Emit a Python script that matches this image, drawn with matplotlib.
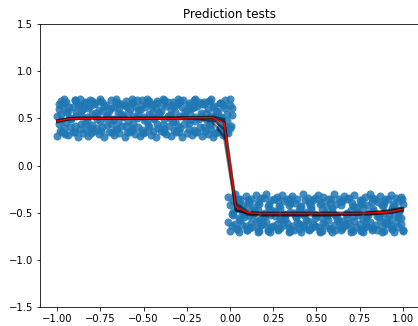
import numpy as np
import matplotlib
matplotlib.use("Agg")
import matplotlib.pyplot as plt

# training points, left band (y around 0.5)
left_x = [
    -1.00, -0.99, -1.00, -0.99, -0.98,
    -0.97, -0.96, -0.98, -0.97, -0.96,
    -0.94, -0.95, -0.93, -0.94, -0.95,
    -0.91, -0.90, -0.92, -0.91, -0.90,
    -0.88, -0.87, -0.89, -0.88, -0.87,
    -0.85, -0.84, -0.86, -0.85, -0.84,
    -0.82, -0.81, -0.83, -0.82, -0.81,
    -0.79, -0.80, -0.78, -0.79, -0.80,
    -0.76, -0.75, -0.77, -0.76, -0.75,
    -0.73, -0.74, -0.72, -0.73, -0.74,
    -0.70, -0.69, -0.71, -0.70, -0.69,
    -0.67, -0.66, -0.68, -0.67, -0.66,
    -0.64, -0.65, -0.63, -0.64, -0.65,
    -0.61, -0.60, -0.62, -0.61, -0.60,
    -0.58, -0.57, -0.59, -0.58, -0.57,
    -0.55, -0.56, -0.54, -0.55, -0.56,
    -0.52, -0.51, -0.53, -0.52, -0.51,
    -0.49, -0.48, -0.50, -0.49, -0.48,
    -0.46, -0.47, -0.45, -0.46, -0.47,
    -0.43, -0.42, -0.44, -0.43, -0.42,
    -0.40, -0.39, -0.41, -0.40, -0.39,
    -0.37, -0.38, -0.36, -0.37, -0.38,
    -0.34, -0.33, -0.35, -0.34, -0.33,
    -0.31, -0.30, -0.32, -0.31, -0.30,
    -0.28, -0.29, -0.27, -0.28, -0.29,
    -0.25, -0.24, -0.26, -0.25, -0.24,
    -0.22, -0.21, -0.23, -0.22, -0.21,
    -0.19, -0.20, -0.18, -0.19, -0.20,
    -0.16, -0.15, -0.17, -0.16, -0.15,
    -0.13, -0.12, -0.14, -0.13, -0.12,
    -0.10, -0.11, -0.09, -0.10, -0.11,
    -0.07, -0.06, -0.08, -0.07, -0.06,
    -0.04, -0.03, -0.05, -0.04, -0.03,
    -0.01, 0.00, -0.02, 0.01, 0.00,
    # second pass, between the columns above
    -0.985, -0.980, -0.990, -0.955, -0.950, -0.960, -0.925, -0.920, -0.930,
    -0.895, -0.890, -0.900, -0.865, -0.860, -0.870, -0.835, -0.830, -0.840,
    -0.805, -0.800, -0.810, -0.775, -0.770, -0.780, -0.745, -0.740, -0.750,
    -0.715, -0.710, -0.720, -0.685, -0.680, -0.690, -0.655, -0.650, -0.660,
    -0.625, -0.620, -0.630, -0.595, -0.590, -0.600, -0.565, -0.560, -0.570,
    -0.535, -0.530, -0.540, -0.505, -0.500, -0.510, -0.475, -0.470, -0.480,
    -0.445, -0.440, -0.450, -0.415, -0.410, -0.420, -0.385, -0.380, -0.390,
    -0.355, -0.350, -0.360, -0.325, -0.320, -0.330, -0.295, -0.290, -0.300,
    -0.265, -0.260, -0.270, -0.235, -0.230, -0.240, -0.205, -0.200, -0.210,
    -0.175, -0.170, -0.180, -0.145, -0.140, -0.150, -0.115, -0.110, -0.120,
    -0.085, -0.080, -0.090, -0.055, -0.050, -0.060, -0.025, -0.020, -0.030,
    0.005, 0.010, 0.000,
]
left_y = [
    0.31, 0.44, 0.52, 0.60, 0.68,
    0.36, 0.40, 0.55, 0.63, 0.70,
    0.32, 0.46, 0.50, 0.58, 0.67,
    0.35, 0.42, 0.49, 0.62, 0.69,
    0.30, 0.39, 0.57, 0.64, 0.70,
    0.34, 0.45, 0.53, 0.60, 0.66,
    0.31, 0.40, 0.51, 0.61, 0.69,
    0.37, 0.43, 0.56, 0.65, 0.68,
    0.33, 0.47, 0.52, 0.59, 0.70,
    0.30, 0.41, 0.50, 0.63, 0.67,
    0.36, 0.44, 0.54, 0.58, 0.69,
    0.32, 0.39, 0.49, 0.62, 0.70,
    0.34, 0.46, 0.55, 0.61, 0.66,
    0.30, 0.42, 0.52, 0.64, 0.68,
    0.35, 0.40, 0.57, 0.60, 0.70,
    0.33, 0.45, 0.50, 0.63, 0.67,
    0.31, 0.38, 0.53, 0.59, 0.69,
    0.36, 0.47, 0.51, 0.62, 0.70,
    0.32, 0.41, 0.56, 0.65, 0.68,
    0.30, 0.44, 0.49, 0.61, 0.66,
    0.37, 0.43, 0.54, 0.58, 0.70,
    0.33, 0.39, 0.52, 0.63, 0.69,
    0.31, 0.46, 0.50, 0.60, 0.67,
    0.35, 0.42, 0.57, 0.64, 0.70,
    0.30, 0.40, 0.53, 0.62, 0.68,
    0.34, 0.45, 0.51, 0.59, 0.66,
    0.32, 0.38, 0.55, 0.61, 0.69,
    0.36, 0.47, 0.49, 0.63, 0.70,
    0.31, 0.41, 0.52, 0.65, 0.67,
    0.33, 0.44, 0.56, 0.60, 0.68,
    0.30, 0.39, 0.50, 0.62, 0.70,
    0.35, 0.46, 0.54, 0.58, 0.66,
    0.32, 0.42, 0.51, 0.64, 0.69,
    0.34, 0.40, 0.55, 0.61, 0.70,
    # second pass
    0.37, 0.48, 0.65, 0.33, 0.57, 0.66, 0.41, 0.50, 0.62,
    0.36, 0.53, 0.69, 0.44, 0.58, 0.64, 0.38, 0.47, 0.67,
    0.34, 0.55, 0.63, 0.40, 0.49, 0.66, 0.37, 0.58, 0.68,
    0.43, 0.52, 0.64, 0.35, 0.48, 0.61, 0.39, 0.56, 0.67,
    0.42, 0.51, 0.65, 0.36, 0.47, 0.63, 0.38, 0.53, 0.66,
    0.41, 0.59, 0.69, 0.34, 0.48, 0.64, 0.43, 0.55, 0.66,
    0.37, 0.50, 0.62, 0.40, 0.57, 0.68, 0.35, 0.49, 0.65,
    0.42, 0.54, 0.67, 0.38, 0.47, 0.63, 0.36, 0.52, 0.66,
    0.44, 0.58, 0.69, 0.39, 0.48, 0.64, 0.35, 0.51, 0.62,
    0.41, 0.56, 0.67, 0.37, 0.49, 0.65, 0.43, 0.53, 0.68,
    0.34, 0.58, 0.63, 0.40, 0.50, 0.66, 0.36, 0.47, 0.61,
    0.42, 0.54, 0.64,
]

# training points, right band (y around -0.5)
right_x = [
    -0.01, 0.00, 0.01, -0.01, 0.00,
    0.03, 0.04, 0.02, 0.03, 0.04,
    0.06, 0.05, 0.07, 0.06, 0.05,
    0.09, 0.10, 0.08, 0.09, 0.10,
    0.12, 0.11, 0.13, 0.12, 0.11,
    0.15, 0.16, 0.14, 0.15, 0.16,
    0.18, 0.17, 0.19, 0.18, 0.17,
    0.21, 0.22, 0.20, 0.21, 0.22,
    0.24, 0.23, 0.25, 0.24, 0.23,
    0.27, 0.28, 0.26, 0.27, 0.28,
    0.30, 0.29, 0.31, 0.30, 0.29,
    0.33, 0.34, 0.32, 0.33, 0.34,
    0.36, 0.35, 0.37, 0.36, 0.35,
    0.39, 0.40, 0.38, 0.39, 0.40,
    0.42, 0.41, 0.43, 0.42, 0.41,
    0.45, 0.46, 0.44, 0.45, 0.46,
    0.48, 0.47, 0.49, 0.48, 0.47,
    0.51, 0.52, 0.50, 0.51, 0.52,
    0.54, 0.53, 0.55, 0.54, 0.53,
    0.57, 0.58, 0.56, 0.57, 0.58,
    0.60, 0.59, 0.61, 0.60, 0.59,
    0.63, 0.64, 0.62, 0.63, 0.64,
    0.66, 0.65, 0.67, 0.66, 0.65,
    0.69, 0.70, 0.68, 0.69, 0.70,
    0.72, 0.71, 0.73, 0.72, 0.71,
    0.75, 0.76, 0.74, 0.75, 0.76,
    0.78, 0.77, 0.79, 0.78, 0.77,
    0.81, 0.82, 0.80, 0.81, 0.82,
    0.84, 0.83, 0.85, 0.84, 0.83,
    0.87, 0.88, 0.86, 0.87, 0.88,
    0.90, 0.89, 0.91, 0.90, 0.89,
    0.93, 0.94, 0.92, 0.93, 0.94,
    0.96, 0.95, 0.97, 0.96, 0.95,
    0.99, 1.00, 0.98, 0.99, 1.00,
    # second pass
    0.015, 0.020, 0.010, 0.045, 0.050, 0.040, 0.075, 0.080, 0.070,
    0.105, 0.110, 0.100, 0.135, 0.140, 0.130, 0.165, 0.170, 0.160,
    0.195, 0.200, 0.190, 0.225, 0.230, 0.220, 0.255, 0.260, 0.250,
    0.285, 0.290, 0.280, 0.315, 0.320, 0.310, 0.345, 0.350, 0.340,
    0.375, 0.380, 0.370, 0.405, 0.410, 0.400, 0.435, 0.440, 0.430,
    0.465, 0.470, 0.460, 0.495, 0.500, 0.490, 0.525, 0.530, 0.520,
    0.555, 0.560, 0.550, 0.585, 0.590, 0.580, 0.615, 0.620, 0.610,
    0.645, 0.650, 0.640, 0.675, 0.680, 0.670, 0.705, 0.710, 0.700,
    0.735, 0.740, 0.730, 0.765, 0.770, 0.760, 0.795, 0.800, 0.790,
    0.825, 0.830, 0.820, 0.855, 0.860, 0.850, 0.885, 0.890, 0.880,
    0.915, 0.920, 0.910, 0.945, 0.950, 0.940, 0.975, 0.980, 0.970,
    0.995, 0.990, 1.000,
]
right_y = [
    -0.33, -0.42, -0.51, -0.60, -0.69,
    -0.30, -0.45, -0.53, -0.62, -0.67,
    -0.36, -0.40, -0.49, -0.58, -0.70,
    -0.32, -0.44, -0.55, -0.64, -0.68,
    -0.35, -0.39, -0.52, -0.61, -0.66,
    -0.31, -0.47, -0.50, -0.59, -0.70,
    -0.34, -0.41, -0.56, -0.63, -0.69,
    -0.30, -0.43, -0.53, -0.60, -0.67,
    -0.37, -0.46, -0.49, -0.65, -0.70,
    -0.33, -0.38, -0.54, -0.62, -0.68,
    -0.31, -0.45, -0.51, -0.58, -0.66,
    -0.36, -0.42, -0.57, -0.61, -0.70,
    -0.32, -0.40, -0.50, -0.64, -0.69,
    -0.35, -0.47, -0.55, -0.60, -0.67,
    -0.30, -0.43, -0.52, -0.63, -0.70,
    -0.34, -0.39, -0.49, -0.59, -0.68,
    -0.37, -0.44, -0.56, -0.62, -0.66,
    -0.31, -0.41, -0.53, -0.65, -0.70,
    -0.33, -0.46, -0.50, -0.61, -0.69,
    -0.36, -0.40, -0.54, -0.58, -0.67,
    -0.30, -0.45, -0.52, -0.63, -0.70,
    -0.35, -0.42, -0.57, -0.60, -0.68,
    -0.32, -0.38, -0.51, -0.64, -0.66,
    -0.34, -0.47, -0.55, -0.61, -0.70,
    -0.31, -0.43, -0.49, -0.59, -0.69,
    -0.37, -0.41, -0.53, -0.62, -0.67,
    -0.33, -0.44, -0.56, -0.65, -0.70,
    -0.30, -0.39, -0.50, -0.60, -0.68,
    -0.36, -0.46, -0.54, -0.63, -0.66,
    -0.32, -0.42, -0.52, -0.58, -0.70,
    -0.35, -0.40, -0.57, -0.61, -0.69,
    -0.31, -0.45, -0.51, -0.64, -0.67,
    -0.34, -0.43, -0.55, -0.60, -0.70,
    -0.33, -0.41, -0.49, -0.62, -0.68,
    # second pass
    -0.38, -0.49, -0.64, -0.35, -0.56, -0.67, -0.42, -0.51, -0.63,
    -0.37, -0.54, -0.68, -0.44, -0.47, -0.65, -0.39, -0.58, -0.66,
    -0.34, -0.50, -0.62, -0.41, -0.53, -0.69, -0.36, -0.48, -0.64,
    -0.43, -0.57, -0.67, -0.38, -0.52, -0.63, -0.35, -0.49, -0.66,
    -0.40, -0.55, -0.68, -0.44, -0.50, -0.62, -0.37, -0.58, -0.65,
    -0.42, -0.47, -0.67, -0.34, -0.53, -0.64, -0.39, -0.56, -0.69,
    -0.43, -0.51, -0.63, -0.36, -0.48, -0.66, -0.41, -0.55, -0.68,
    -0.38, -0.59, -0.64, -0.35, -0.50, -0.62, -0.40, -0.54, -0.67,
    -0.44, -0.49, -0.65, -0.37, -0.57, -0.69, -0.42, -0.52, -0.63,
    -0.34, -0.48, -0.66, -0.39, -0.55, -0.68, -0.43, -0.50, -0.64,
    -0.36, -0.58, -0.62, -0.41, -0.53, -0.67, -0.38, -0.47, -0.65,
    -0.35, -0.56, -0.69,
]

# prediction grid and model outputs
pred_x = [-1.000, -0.931, -0.862, -0.793, -0.724, -0.655, -0.586, -0.517, -0.448, -0.379,
          -0.310, -0.241, -0.172, -0.103, -0.034, 0.034, 0.103, 0.172, 0.241, 0.310,
          0.379, 0.448, 0.517, 0.586, 0.655, 0.724, 0.793, 0.862, 0.931, 1.000]
pred_mean = [0.47, 0.495, 0.50, 0.50, 0.50, 0.50, 0.50, 0.50, 0.50, 0.50,
             0.50, 0.505, 0.505, 0.51, 0.45, -0.44, -0.50, -0.51, -0.51, -0.51,
             -0.51, -0.51, -0.51, -0.51, -0.51, -0.51, -0.505, -0.50, -0.49, -0.465]
pred_samples = [
    [0.46, 0.49, 0.50, 0.50, 0.50, 0.50, 0.50, 0.50, 0.50, 0.50,
     0.50, 0.50, 0.50, 0.50, 0.38, -0.47, -0.51, -0.52, -0.52, -0.52,
     -0.52, -0.52, -0.52, -0.52, -0.52, -0.52, -0.51, -0.51, -0.50, -0.48],
    [0.48, 0.50, 0.51, 0.51, 0.51, 0.51, 0.51, 0.51, 0.51, 0.51,
     0.51, 0.51, 0.51, 0.52, 0.49, -0.40, -0.49, -0.50, -0.50, -0.50,
     -0.50, -0.50, -0.50, -0.50, -0.50, -0.50, -0.50, -0.49, -0.47, -0.45],
    [0.47, 0.50, 0.50, 0.50, 0.50, 0.50, 0.50, 0.50, 0.50, 0.50,
     0.51, 0.51, 0.51, 0.51, 0.46, -0.43, -0.52, -0.53, -0.53, -0.53,
     -0.53, -0.53, -0.53, -0.53, -0.52, -0.52, -0.52, -0.51, -0.50, -0.47],
    [0.47, 0.49, 0.50, 0.50, 0.50, 0.50, 0.50, 0.50, 0.50, 0.50,
     0.50, 0.50, 0.49, 0.47, 0.30, -0.48, -0.50, -0.51, -0.51, -0.51,
     -0.51, -0.51, -0.51, -0.51, -0.51, -0.51, -0.50, -0.49, -0.48, -0.46],
]

fig = plt.figure(figsize=(418 / 72, 326 / 72), dpi=72)
ax = fig.add_axes([40 / 418, 19 / 326, 380 / 418, 283 / 326])

ax.scatter(left_x + right_x, left_y + right_y, s=65, color="tab:blue", alpha=0.85, linewidths=0)
for sample in pred_samples:
    ax.plot(pred_x, sample, color="black", lw=2.5, alpha=0.5)
ax.plot(pred_x, pred_mean, color="red", lw=1.5)

ax.set_xlim(-1.1, 1.1)
ax.set_ylim(-1.5, 1.5)
ax.set_xticks(np.arange(-1.0, 1.01, 0.25))
ax.set_yticks(np.arange(-1.5, 1.51, 0.5))
ax.set_title("Prediction tests")

fig.savefig("out.png", dpi=72)
